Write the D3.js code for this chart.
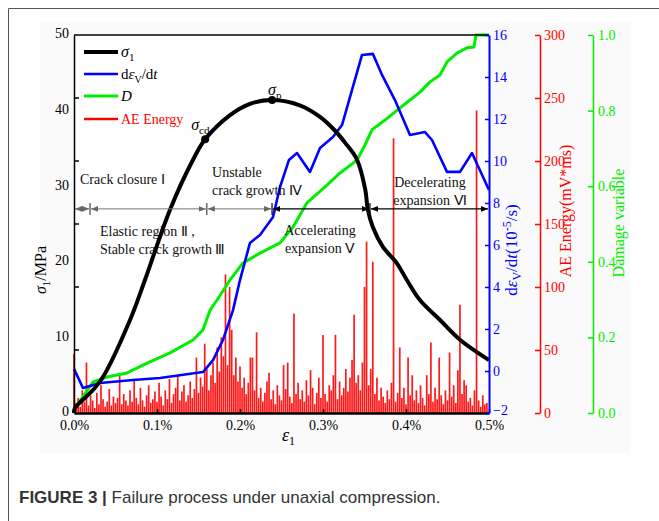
<!DOCTYPE html>
<html>
<head>
<meta charset="utf-8">
<script src="https://cdn.jsdelivr.net/npm/d3@7"></script>
<style>
body { margin: 0; background: #fff; }
svg text { font-family: "Liberation Serif", "Times New Roman", serif; }
</style>
</head>
<body>
<script>
var w = 659, h = 521;
var plot = { left: 74, right: 489, top: 35, bottom: 413 };

// stress-strain curve (strain in %, stress in MPa)
var stressStrain = [0, 0.0012, 0.0229, 0.0349, 0.0675, 0.0855, 0.1157, 0.1434, 0.158, 0.188, 0.212, 0.2386,
  0.272, 0.296, 0.314, 0.327, 0.341, 0.351, 0.354, 0.36, 0.372, 0.389, 0.401, 0.417, 0.441, 0.465, 0.5];
var stressValue = [0, 0.66, 3.04, 4.76, 12.3, 17.6, 26.9, 33.5, 36.2, 39.4, 40.9, 41.4,
  40.7, 39.2, 37.4, 35.7, 33.5, 29.5, 26.9, 24.6, 22.0, 19.8, 17.6, 14.9, 12.3, 9.7, 7.0];

// volumetric strain rate (10^-5/s)
var rateStrain = [0, 0.0108, 0.0313, 0.0711, 0.1036, 0.1554, 0.1675, 0.1795, 0.1916, 0.2, 0.212, 0.2241, 0.2398,
  0.2482, 0.2590, 0.2687, 0.2843, 0.2964, 0.3120, 0.3229, 0.3470, 0.3602, 0.3711, 0.3867, 0.4048, 0.4229,
  0.4313, 0.4494, 0.4651, 0.4795, 0.5];
var rateValue = [0.1, -0.81, -0.57, -0.43, -0.33, -0.05, 0.52, 1.48, 2.9, 4.33, 6.1, 6.48, 7.33,
  8.76, 10.05, 10.38, 9.48, 10.62, 11.14, 11.71, 15.05, 15.1, 14.1, 12.9, 11.24, 11.38,
  11.0, 9.48, 9.48, 10.38, 8.62];

// damage variable D
var damageStrain = [0, 0.0012, 0.0229, 0.0398, 0.0639, 0.0880, 0.1157, 0.1434, 0.1554, 0.1639, 0.1723,
  0.1880, 0.2036, 0.2241, 0.2482, 0.2639, 0.2807, 0.3048, 0.3205, 0.3410, 0.3506, 0.3590, 0.3747,
  0.3928, 0.4048, 0.4169, 0.4289, 0.4410, 0.4494, 0.4614, 0.4735, 0.4819, 0.4843, 0.5];
var damageValue = [0, 0.013, 0.082, 0.095, 0.106, 0.132, 0.159, 0.193, 0.22, 0.272, 0.299,
  0.352, 0.397, 0.423, 0.45, 0.492, 0.556, 0.603, 0.635, 0.669, 0.709, 0.749, 0.775,
  0.807, 0.828, 0.849, 0.876, 0.894, 0.929, 0.952, 0.966, 0.968, 1.0, 1.0];

// AE energy (mV*ms), one value every 0.0025 % strain
var aeStep = 0.0025;
var aeEnergy = [
  47, 8, 12, 5, 18, 9, 40, 6, 14, 10,
  4, 16, 7, 22, 11, 5, 9, 19, 6, 13,
  8, 12, 30, 7, 15, 10, 6, 18, 9, 26,
  12, 7, 20, 10, 5, 14, 22, 8, 11, 17,
  9, 24, 13, 6, 18, 11, 27, 8, 15, 20,
  30, 10, 17, 22, 9, 14, 25, 12, 19, 44,
  16, 28, 21, 55, 35, 18, 30, 40, 24, 52,
  33, 60, 45, 110, 38, 100, 66, 30, 44, 25,
  37, 20, 28, 15, 24, 44, 44, 18, 64, 12,
  20, 9, 16, 25, 32, 11, 18, 7, 22, 14,
  10, 38, 19, 40, 13, 8, 79, 15, 24, 11,
  18, 9, 26, 14, 34, 20, 7, 16, 28, 12,
  62, 15, 9, 22, 18, 30, 62, 11, 25, 14,
  20, 35, 17, 28, 42, 78, 24, 30, 18, 40,
  100, 136, 22, 35, 120, 15, 28, 10, 20, 13,
  8, 18, 11, 24, 218, 9, 16, 52, 12, 20,
  7, 44, 14, 30, 10, 18, 8, 22, 12, 6,
  30, 15, 56, 9, 20, 11, 44, 14, 7, 18,
  10, 48, 13, 22, 8, 34, 86, 15, 26, 22,
  9, 12, 6, 18, 240, 10, 5, 14, 7, 8
];

// characteristic points
var keyNames = ["cd", "p"];
var keyStrain = [0.158, 0.2386];
var keyStress = [36.2, 41.4];

// stage boundaries (strain %) and labels
var stageBounds = [0, 0.0193, 0.16, 0.2386, 0.3566, 0.5];
var stageLabels = [
  ["Crack closure \u2160"],
  ["Elastic region \u2161 ,", "Stable crack growth \u2162"],
  ["Unstable", "crack growth \u2163"],
  ["Accelerating", "expansion \u2164"],
  ["Decelerating", "expansion \u2165"]
];

var xTicks = [0, 0.1, 0.2, 0.3, 0.4, 0.5];
var stressTicks = [0, 10, 20, 30, 40, 50];
var rateTicks = [-2, 0, 2, 4, 6, 8, 10, 12, 14, 16];
var aeTicks = [0, 50, 100, 150, 200, 250, 300];
var damageTicks = [0, 0.2, 0.4, 0.6, 0.8, 1.0];

var blue = "#0000ff", red = "#ff0000", green = "#00ee00";
var serif = "Liberation Serif, Times New Roman, serif";

var svg = d3.select("body").append("svg").attr("width", w).attr("height", h);

// page frame
svg.append("rect").attr("x", 40).attr("y", 22).attr("width", 590).attr("height", 431).style("fill", "#fafafa");
svg.append("path").attr("d", "M8.5," + h + "V8.5H" + w).style("fill", "none").style("stroke", "#555");
svg.append("rect")
  .attr("x", plot.left).attr("y", plot.top)
  .attr("width", plot.right - plot.left).attr("height", plot.bottom - plot.top)
  .style("fill", "#fff");

var x = d3.scaleLinear().domain([0, 0.5]).range([plot.left, plot.right]);
var yS = d3.scaleLinear().domain([0, 50]).range([plot.bottom, plot.top]);
var yR = d3.scaleLinear().domain([-2, 16]).range([plot.bottom, plot.top]);
var yE = d3.scaleLinear().domain([0, 300]).range([plot.bottom, plot.top]);
var yD = d3.scaleLinear().domain([0, 1]).range([plot.bottom, plot.top]);

// AE energy bars
svg.append("g").selectAll("line")
  .data(aeEnergy)
  .enter()
  .append("line")
  .attr("x1", function (d, i) { return x(i * aeStep); })
  .attr("x2", function (d, i) { return x(i * aeStep); })
  .attr("y1", yE(0))
  .attr("y2", function (d) { return yE(d); })
  .style("stroke", red)
  .style("stroke-width", 1.7)
  .style("opacity", 0.9);

function drawLine(xs, ys, yScale, color, width, curve) {
  var line = d3.line()
    .x(function (d) { return x(xs[d]); })
    .y(function (d) { return yScale(ys[d]); })
    .curve(curve);
  svg.append("path")
    .attr("d", line(d3.range(xs.length)))
    .style("fill", "none")
    .style("stroke", color)
    .style("stroke-width", width)
    .style("stroke-linejoin", "round");
}

drawLine(damageStrain, damageValue, yD, green, 3, d3.curveLinear);
drawLine(rateStrain, rateValue, yR, blue, 2.6, d3.curveLinear);
drawLine(stressStrain, stressValue, yS, "#000", 4, d3.curveCatmullRom);

// key points
keyNames.forEach(function (n, i) {
  svg.append("circle")
    .attr("cx", x(keyStrain[i])).attr("cy", yS(keyStress[i])).attr("r", 4)
    .style("fill", "#000");
  var t = svg.append("text")
    .attr("x", x(keyStrain[i]) + (i === 0 ? -14 : -4))
    .attr("y", yS(keyStress[i]) + (i === 0 ? -9 : -5))
    .style("font-size", "16px").style("font-style", "italic");
  t.append("tspan").text("\u03c3");
  t.append("tspan").text(n).attr("dy", 4).style("font-size", "11px").style("font-style", "normal");
});

// stage arrows
var defs = svg.append("defs");
["#666", "#000"].forEach(function (c, i) {
  defs.append("marker")
    .attr("id", "arr" + i)
    .attr("viewBox", "0 0 10 10")
    .attr("refX", 10).attr("refY", 5)
    .attr("markerWidth", 7).attr("markerHeight", 7)
    .attr("markerUnits", "userSpaceOnUse")
    .attr("orient", "auto-start-reverse")
    .append("path").attr("d", "M0,1L10,5L0,9Z").style("fill", c);
});
var arrowY = yS(27);
for (var s = 0; s < stageBounds.length - 1; s++) {
  var dark = s >= 3 ? 1 : 0;
  svg.append("line")
    .attr("x1", x(stageBounds[s]) + 1).attr("x2", x(stageBounds[s + 1]) - 1)
    .attr("y1", arrowY).attr("y2", arrowY)
    .style("stroke", dark ? "#000" : "#777")
    .style("stroke-width", dark ? 1.4 : 1)
    .attr("marker-start", "url(#arr" + dark + ")")
    .attr("marker-end", "url(#arr" + dark + ")");
  if (s > 0) {
    svg.append("line")
      .attr("x1", x(stageBounds[s])).attr("x2", x(stageBounds[s]))
      .attr("y1", arrowY - 6).attr("y2", arrowY + 6)
      .style("stroke", s >= 3 ? "#000" : "#444")
      .style("stroke-width", 1.2);
  }
}

// stage labels
var labelPos = [
  { s: 0.0072, v: 30.3, a: "start" },
  { s: 0.0313, v: 23.4, a: "start" },
  { s: 0.1663, v: 31.2, a: "start" },
  { s: 0.2964, v: 23.5, a: "middle" },
  { s: 0.4289, v: 29.9, a: "middle" }
];
stageLabels.forEach(function (lines, i) {
  var t = svg.append("text")
    .attr("x", x(labelPos[i].s)).attr("y", yS(labelPos[i].v))
    .attr("text-anchor", labelPos[i].a)
    .style("font-size", "14px").style("fill", "#111");
  lines.forEach(function (l, j) {
    t.append("tspan").attr("x", x(labelPos[i].s)).attr("dy", j === 0 ? 0 : 18).text(l);
  });
});

// axes
function styleAxis(g, color, width) {
  g.attr("font-family", serif).attr("font-size", 14);
  g.select(".domain").style("stroke", color).style("stroke-width", width);
  g.selectAll(".tick line").style("stroke", color).style("stroke-width", 1.5);
  g.selectAll(".tick text").style("fill", color).style("font-size", "14px")
    .style("font-family", serif);
}

var gx = svg.append("g").attr("transform", "translate(0," + plot.bottom + ")")
  .call(d3.axisBottom(x).tickValues(xTicks).tickSizeInner(-4).tickSizeOuter(0).tickPadding(7)
    .tickFormat(function (d) { return d3.format(".1f")(d) + "%"; }));
styleAxis(gx, "#000", 2.5);

var gl = svg.append("g").attr("transform", "translate(" + plot.left + ",0)")
  .call(d3.axisLeft(yS).tickValues(stressTicks).tickSize(0).tickPadding(5));
styleAxis(gl, "#000", 1.5);
gl.selectAll(".tick text").attr("dy", "0.2em");
// inner ticks on the left side line up with the AE energy scale
gl.selectAll("line.mirror")
  .data(aeTicks.slice(1, -1))
  .enter()
  .append("line")
  .attr("x1", 0).attr("x2", 5)
  .attr("y1", function (d) { return yE(d); })
  .attr("y2", function (d) { return yE(d); })
  .style("stroke", "#000").style("stroke-width", 1.5);

svg.append("line")
  .attr("x1", plot.left).attr("x2", plot.right)
  .attr("y1", plot.top).attr("y2", plot.top)
  .style("stroke", "#000").style("stroke-width", 1.5);

var gr = svg.append("g").attr("transform", "translate(" + plot.right + ",0)")
  .call(d3.axisRight(yR).tickValues(rateTicks).tickSizeInner(-4).tickSizeOuter(0).tickPadding(4));
styleAxis(gr, blue, 2);
// lowest label sits just above the strain axis labels
gr.selectAll(".tick text").filter(function (d) { return d === rateTicks[0]; }).attr("dy", "0.1em");

var ge = svg.append("g").attr("transform", "translate(540,0)")
  .call(d3.axisRight(yE).tickValues(aeTicks).tickSizeInner(-5).tickSizeOuter(0).tickPadding(4));
styleAxis(ge, red, 1.5);

var gd = svg.append("g").attr("transform", "translate(593,0)")
  .call(d3.axisRight(yD).tickValues(damageTicks).tickSizeInner(-5).tickSizeOuter(0).tickPadding(5)
    .tickFormat(d3.format(".1f")));
styleAxis(gd, green, 1.5);

// axis titles
var tl = svg.append("text")
  .attr("transform", "translate(46,270) rotate(-90)")
  .attr("text-anchor", "middle").style("font-size", "16px");
tl.append("tspan").text("\u03c3").style("font-style", "italic");
tl.append("tspan").text("1").attr("dy", 4).style("font-size", "11px");
tl.append("tspan").text("/MPa").attr("dy", -4);

var tb = svg.append("text").attr("x", 282).attr("y", 441).style("font-size", "18px");
tb.append("tspan").text("\u03b5").style("font-style", "italic");
tb.append("tspan").text("1").attr("dy", 4).style("font-size", "12px");

var tr = svg.append("text")
  .attr("transform", "translate(517,250) rotate(-90)")
  .attr("text-anchor", "middle").style("font-size", "17px").style("fill", blue);
tr.append("tspan").text("d");
tr.append("tspan").text("\u03b5").style("font-style", "italic");
tr.append("tspan").text("V").attr("dy", 4).style("font-size", "12px");
tr.append("tspan").text("/d").attr("dy", -4);
tr.append("tspan").text("t").style("font-style", "italic");
tr.append("tspan").text("(10");
tr.append("tspan").text("-5").attr("dy", -6).style("font-size", "12px");
tr.append("tspan").text("/s)").attr("dy", 6);

svg.append("text")
  .attr("transform", "translate(571,211) rotate(-90)")
  .attr("text-anchor", "middle").style("font-size", "16px").style("fill", red)
  .text("AE Energy(mV*ms)");

svg.append("text")
  .attr("transform", "translate(624,223) rotate(-90)")
  .attr("text-anchor", "middle").style("font-size", "16px").style("fill", green)
  .text("Damage variable");

// legend
var legendColors = ["#000", blue, green, red];
var legendWidths = [4, 2.6, 3, 2.6];
var legendY = [52, 74, 96, 119];
legendColors.forEach(function (c, i) {
  svg.append("line")
    .attr("x1", 84).attr("x2", 118).attr("y1", legendY[i]).attr("y2", legendY[i])
    .style("stroke", c).style("stroke-width", legendWidths[i]);
});
var lt0 = svg.append("text").attr("x", 121).attr("y", 57).style("font-size", "16px");
lt0.append("tspan").text("\u03c3").style("font-style", "italic");
lt0.append("tspan").text("1").attr("dy", 4).style("font-size", "11px");
var lt1 = svg.append("text").attr("x", 121).attr("y", 79).style("font-size", "15px");
lt1.append("tspan").text("d");
lt1.append("tspan").text("\u03b5").style("font-style", "italic");
lt1.append("tspan").text("V").attr("dy", 4).style("font-size", "10px");
lt1.append("tspan").text("/d").attr("dy", -4);
lt1.append("tspan").text("t").style("font-style", "italic");
svg.append("text").attr("x", 121).attr("y", 101).style("font-size", "15px").style("font-style", "italic").text("D");
svg.append("text").attr("x", 121).attr("y", 124).style("font-size", "14px").style("fill", red).text("AE Energy");

// caption
var cap = svg.append("text").attr("x", 19).attr("y", 503)
  .style("font-family", "Liberation Sans, Arial, sans-serif").style("font-size", "17px").style("fill", "#333");
cap.append("tspan").text("FIGURE 3 | ").style("font-weight", "bold");
cap.append("tspan").text("Failure process under unaxial compression.");
</script>
</body>
</html>
